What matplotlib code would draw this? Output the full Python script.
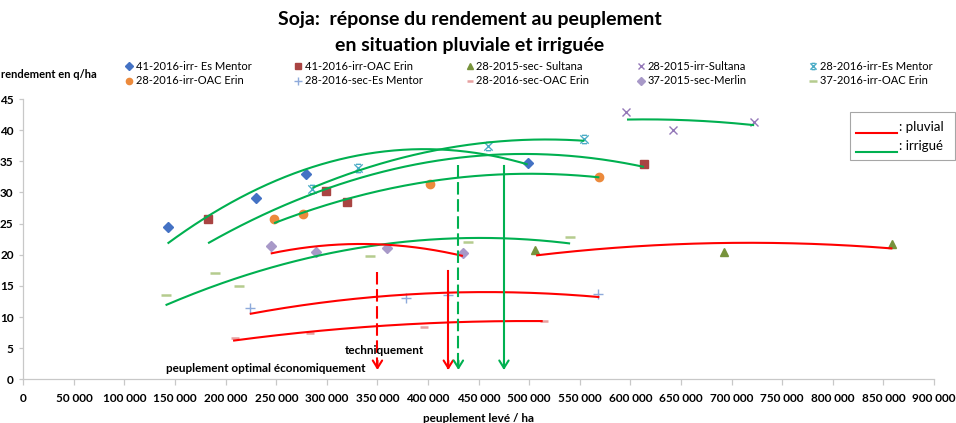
import numpy as np
import matplotlib
matplotlib.use('Agg')
import matplotlib.pyplot as plt
from matplotlib.lines import Line2D
from matplotlib.patches import Rectangle
from matplotlib.path import Path
from matplotlib.ticker import FuncFormatter, MultipleLocator

plt.rcParams['font.family'] = ['Lato', 'DejaVu Sans']

# ---------------- data ----------------
names = ["41-2016-irr- Es Mentor", "41-2016-irr-OAC Erin", "28-2015-sec- Sultana",
         "28-2015-irr-Sultana", "28-2016-irr-Es Mentor", "28-2016-irr-OAC Erin",
         "28-2016-sec-Es Mentor", "28-2016-sec-OAC Erin", "37-2015-sec-Merlin",
         "37-2016-irr-OAC Erin"]

x_s1 = [143200, 229700, 279800, 498900]
y_s1 = [24.4, 29.1, 33.0, 34.7]
x_s2 = [182600, 299500, 319900, 613100]
y_s2 = [25.8, 30.2, 28.5, 34.6]
x_s3 = [506100, 692000, 858900]
y_s3 = [20.7, 20.4, 21.7]
x_s4 = [595600, 642400, 722300]
y_s4 = [42.9, 40.1, 41.3]
x_s5 = [285500, 330700, 459300, 554200]
y_s5 = [30.5, 33.9, 37.5, 38.5]
x_s6 = [247800, 276400, 401500, 569300]
y_s6 = [25.7, 26.6, 31.3, 32.5]
x_s7 = [224500, 377800, 419300, 567700]
y_s7 = [11.4, 13.0, 13.5, 13.7]
x_s8 = [209000, 283000, 395900, 515000]
y_s8 = [6.6, 7.4, 8.4, 9.4]
x_s9 = [244500, 289600, 359300, 434400]
y_s9 = [21.4, 20.4, 21.1, 20.3]
x_s10 = [140900, 189300, 213200, 342300, 439300, 540400]
y_s10 = [13.6, 17.0, 15.0, 19.8, 22.1, 22.8]

# trend curves (order-2 trendlines), read as anchor points on each curve
tx_s1 = [142600, 263300, 408100, 498500]
ty_s1 = [21.8, 32.8, 36.9, 34.5]
tx_s2 = [182600, 233600, 263300, 437700, 613400]
ty_s2 = [21.8, 26.3, 28.2, 35.7, 34.1]
tx_s5 = [285700, 362000, 459700, 554500]
ty_s5 = [30.6, 35.4, 37.7, 38.4]
tx_s6 = [247800, 263300, 401500, 477200, 569300]
ty_s6 = [25.0, 26.1, 31.7, 33.0, 32.4]
tx_s4 = [596600, 668000, 722300]
ty_s4 = [41.7, 41.5, 40.8]
tx_s10 = [140600, 279800, 444200, 540400]
ty_s10 = [11.9, 19.4, 22.7, 21.8]
tx_s9 = [244500, 345500, 434400]
ty_s9 = [20.2, 21.7, 19.8]
tx_s3 = [506800, 569500, 694400, 858900]
ty_s3 = [19.9, 20.9, 21.9, 21.0]
tx_s7 = [223800, 345500, 454100, 569300]
ty_s7 = [10.5, 13.2, 14.0, 13.2]
tx_s8 = [207300, 345500, 418000, 513300]
ty_s8 = [6.2, 8.5, 9.1, 9.35]

# optimum arrows
arrow_x = [350000, 420000, 430000, 475000]
arrow_top = [17.3, 17.4, 34.4, 34.3]
arrow_bottom = 1.5

legend_labels = [": pluvial", ": irrigué"]
title_lines = ["Soja:  réponse du rendement au peuplement",
               "en situation pluviale et irriguée"]

# ---------------- styles ----------------
RED = '#FF0000'
GREEN = '#00B050'

xbar = Path([(-1, -1), (1, 1), (-1, 1), (1, -1), (-0.6, 1), (0.6, 1), (-0.6, -1), (0.6, -1)],
            [Path.MOVETO, Path.LINETO] * 4)

styles = [
    dict(marker='D', color='#4472C4', ms=5),
    dict(marker='s', color='#A94442', ms=5.5),
    dict(marker='^', color='#77933C', ms=6),
    dict(marker='x', color='#9478B8', ms=6, mew=1),
    dict(marker=xbar, color='#4BACC6', ms=6, mew=1),
    dict(marker='o', color='#EC8A3C', ms=6),
    dict(marker='+', color='#8EAADB', ms=7, mew=1),
    dict(marker='_', color='#E6A0A0', ms=6, mew=1.8),
    dict(marker='D', color='#A899C8', ms=5),
    dict(marker='_', color='#B5CC8E', ms=7, mew=1.8),
]

xs_all = [x_s1, x_s2, x_s3, x_s4, x_s5, x_s6, x_s7, x_s8, x_s9, x_s10]
ys_all = [y_s1, y_s2, y_s3, y_s4, y_s5, y_s6, y_s7, y_s8, y_s9, y_s10]

trends = [(tx_s1, ty_s1, GREEN), (tx_s2, ty_s2, GREEN), (tx_s5, ty_s5, GREEN),
          (tx_s6, ty_s6, GREEN), (tx_s4, ty_s4, GREEN), (tx_s10, ty_s10, GREEN),
          (tx_s9, ty_s9, RED), (tx_s3, ty_s3, RED), (tx_s7, ty_s7, RED),
          (tx_s8, ty_s8, RED)]

W, H = 956, 423
fig = plt.figure(figsize=(W / 100, H / 100), dpi=100)
L, R, T, B = 23.3, 934, 99, 379.3
ax = fig.add_axes([L / W, (H - B) / H, (R - L) / W, (B - T) / H])

# markers
for xs, ys, st in zip(xs_all, ys_all, styles):
    st = dict(st)
    c = st.pop('color')
    ax.plot(xs, ys, ls='none', color=c, mec=c, mfc=c, zorder=2, **st)

# trend lines
for tx, ty, c in trends:
    u = np.array(tx) / 1e5
    coef = np.polyfit(u, ty, 2)
    uu = np.linspace(u[0], u[-1], 200)
    ax.plot(uu * 1e5, np.polyval(coef, uu), color=c, lw=1.5, zorder=3,
            solid_capstyle='butt')

# arrows
arrow_colors = [RED, RED, GREEN, GREEN]
arrow_ls = [(0, (6, 2.2)), '-', (0, (6, 2.2)), '-']
for xa, yt, c, ls in zip(arrow_x, arrow_top, arrow_colors, arrow_ls):
    ax.plot([xa, xa], [yt, arrow_bottom + 0.3], color=c, lw=1.5, ls=ls, zorder=4)
    ax.annotate('', xy=(xa, arrow_bottom), xytext=(xa, arrow_bottom + 1.5),
                arrowprops=dict(arrowstyle='->,head_length=0.45,head_width=0.28',
                                color=c, lw=1.5, shrinkA=0, shrinkB=0,
                                mutation_scale=12), zorder=4)

ax.text(357000, 4.6, "techniquement", fontsize=8.5, fontweight='bold',
        ha='center', va='center', zorder=5)
ax.text(338000, 1.7, "peuplement optimal économiquement", fontsize=8.5,
        fontweight='bold', ha='right', va='center', zorder=5)

# axes styling
ax.set_xlim(0, 900000)
ax.set_ylim(0, 45)
ax.xaxis.set_major_locator(MultipleLocator(50000))
ax.yaxis.set_major_locator(MultipleLocator(5))
ax.xaxis.set_major_formatter(FuncFormatter(lambda v, p: f"{int(round(v)):,}".replace(",", " ")))
for s in ['top', 'right']:
    ax.spines[s].set_visible(False)
for s in ['left', 'bottom']:
    ax.spines[s].set_color('#C8C8C8')
    ax.spines[s].set_linewidth(0.9)
ax.tick_params(axis='x', length=4, width=0.9, color='#C8C8C8', pad=6,
               labelsize=8.5)
ax.tick_params(axis='y', length=3, width=0.9, color='#C8C8C8', pad=4,
               labelsize=8.5)
for lab in ax.get_xticklabels() + ax.get_yticklabels():
    lab.set_fontweight('bold')
ax.set_xlabel("peuplement levé / ha", fontsize=8.5, fontweight='bold', labelpad=6)

fig.text(1 / W, 1 - 75 / H, "rendement en q/ha", fontsize=8, fontweight='bold',
         ha='left', va='center')

# title
fig.text(470 / W, 1 - 20 / H, title_lines[0], fontsize=14, fontweight='bold',
         ha='center', va='center')
fig.text(470 / W, 1 - 45 / H, title_lines[1], fontsize=14, fontweight='bold',
         ha='center', va='center')

# series legend (5 columns x 2 rows)
col_x = [129.3, 298.3, 470, 641, 813]
row_y = [66, 80.7]
for i, (name, st) in enumerate(zip(names, styles)):
    r, cidx = divmod(i, 5)
    st = dict(st)
    c = st.pop('color')
    ms = st.pop('ms') * 0.75
    fig.add_artist(Line2D([col_x[cidx] / W], [1 - row_y[r] / H], transform=fig.transFigure,
                          ls='none', color=c, mec=c, mfc=c, ms=ms, **st))
    fig.text((col_x[cidx] + 6.5) / W, 1 - row_y[r] / H, name, fontsize=8,
             ha='left', va='center')

# pluvial / irrigué box
fig.add_artist(Rectangle((850 / W, 1 - 160 / H), (955 - 850) / W, 48 / H,
                         transform=fig.transFigure, fill=False,
                         edgecolor='#A6A6A6', lw=0.8))
for yl, yt, c, lab in [(132.7, 127, RED, legend_labels[0]),
                       (152, 146, GREEN, legend_labels[1])]:
    fig.add_artist(Line2D([856 / W, 897 / W], [1 - yl / H, 1 - yl / H],
                          transform=fig.transFigure, color=c, lw=1.5))
    fig.text(899 / W, 1 - yt / H, lab, fontsize=9.5, ha='left', va='center')

fig.savefig('out.png', dpi=100)
